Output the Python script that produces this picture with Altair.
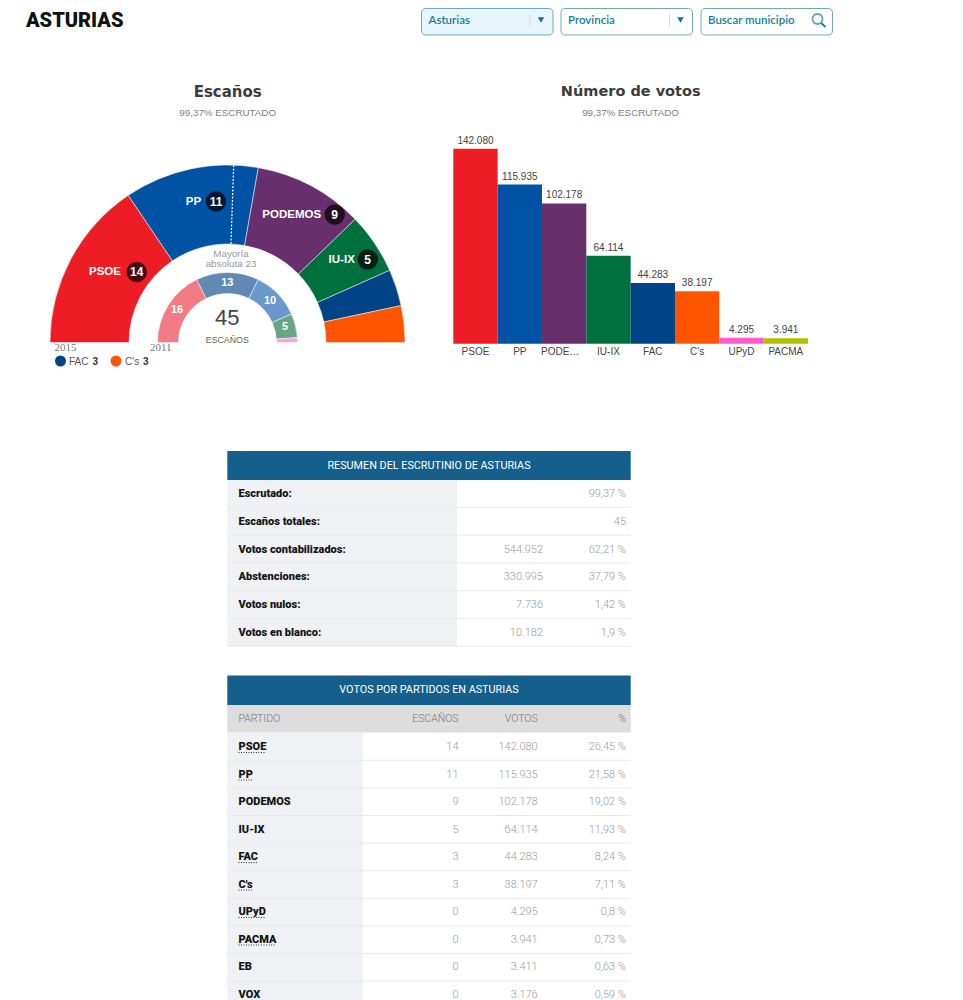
import math
import altair as alt
import pandas as pd

# ---------- data ----------
parties = ["PSOE", "PP", "PODEMOS", "IU-IX", "FAC", "C's", "UPyD", "PACMA", "EB", "VOX"]
party_colors = ["#EE1C25", "#0052A5", "#672F6C", "#00703F", "#004487", "#FF5500", "#FF5ACD", "#B0BF00", "#999999", "#999999"]
seats_2015 = [14, 11, 9, 5, 3, 3, 0, 0, 0, 0]
votes = [142080, 115935, 102178, 64114, 44283, 38197, 4295, 3941, 3411, 3176]
pct = ["26,45 %", "21,58 %", "19,02 %", "11,93 %", "8,24 %", "7,11 %", "0,8 %", "0,73 %", "0,63 %", "0,59 %"]
bar_parties = parties[:8]
bar_labels = ["PSOE", "PP", "PODE…", "IU-IX", "FAC", "C's", "UPyD", "PACMA"]
ring_labels = ["PSOE", "PP", "PODEMOS", "IU-IX"]
seats_2011_groups = ["PSOE", "PP", "FAC", "IU", "UPyD"]
seats_2011 = [16, 13, 10, 5, 1]
colors_2011 = ["#F27A85", "#6089B3", "#6A97CC", "#66A585", "#F9A0EA"]
summary_rows = ["Escrutado:", "Escaños totales:", "Votos contabilizados:", "Abstenciones:", "Votos nulos:", "Votos en blanco:"]
summary_counts = ["", "", "544.952", "330.995", "7.736", "10.182"]
summary_values = ["99,37 %", "45", "62,21 %", "37,79 %", "1,42 %", "1,9 %"]
underlined = {"PSOE": 27, "PP": 14, "FAC": 19, "C's": 15, "UPyD": 26, "PACMA": 36}
majority = 23
total_seats = 45

fmt = lambda v: f"{v:,}".replace(",", ".")
OFF = 8
ONE = alt.Data(values=[{"a": 1}])
SANS = "Liberation Sans"
NARROW = "Roboto"
TEAL = "#157D9A"
layers = []


def text(s, x, y, size=10, color="#444444", font=SANS, weight="normal", align="center", **kw):
    layers.append(
        alt.Chart(ONE).mark_text(text=s, fontSize=size, color=color, font=font, fontWeight=weight,
                                 align=align, baseline="middle", **kw)
        .encode(x=alt.value(x - OFF), y=alt.value(y - OFF))
    )


def box(x0, y0, x1, y1, fill, stroke=None, radius=0, width=1):
    kw = {"stroke": stroke, "strokeWidth": width} if stroke else {}
    layers.append(
        alt.Chart(ONE).mark_rect(fill=fill, cornerRadius=radius, **kw)
        .encode(x=alt.value(x0 - OFF), x2=alt.value(x1 - OFF), y=alt.value(y0 - OFF), y2=alt.value(y1 - OFF))
    )


def line(x0, y0, x1, y1, color, width=1, dash=None):
    kw = {"strokeDash": dash} if dash else {}
    layers.append(
        alt.Chart(ONE).mark_rule(color=color, strokeWidth=width, **kw)
        .encode(x=alt.value(x0 - OFF), x2=alt.value(x1 - OFF), y=alt.value(y0 - OFF), y2=alt.value(y1 - OFF))
    )


def dot(x, y, d, color, opacity=1.0, shape="circle"):
    layers.append(
        alt.Chart(ONE).mark_point(filled=True, shape=shape, size=d * d, color=color, opacity=opacity)
        .encode(x=alt.value(x - OFF), y=alt.value(y - OFF))
    )


def ring(names, vals, cols, outer, inner, cx, cy):
    df = pd.DataFrame({"name": names, "v": vals, "i": range(len(names))})
    layers.append(
        alt.Chart(df).mark_arc(outerRadius=outer, innerRadius=inner, stroke="white", strokeWidth=0.5)
        .encode(
            theta=alt.Theta("v:Q", stack=True,
                            scale=alt.Scale(domain=[0, total_seats], range=[-math.pi / 2, math.pi / 2])),
            color=alt.Color("name:N", scale=alt.Scale(domain=names, range=cols), legend=None),
            order=alt.Order("i:Q"),
            x=alt.value(cx - OFF), y=alt.value(cy - OFF),
        )
    )


# ---------- header ----------
text("ASTURIAS", 26, 20.5, size=20, color="#111111", font="Roboto", weight=900, align="left")
for x0, fill, label, div in [(421.5, "#E6F6FC", "Asturias", True), (561, "white", "Provincia", True),
                             (701, "white", "Buscar municipio", False)]:
    box(x0, 8.5, x0 + 131.5, 35, fill, stroke="#6FA9BC", radius=4)
    text(label, x0 + 7, 20.5, size=11.5, color=TEAL, font="Lato", weight=600, align="left")
    if div:
        line(x0 + 108.5, 14, x0 + 108.5, 27, "#C5DDE6")
        dot(x0 + 119.5, 20, 6.5, "#1A6E8E", shape="triangle-down")
layers.append(
    alt.Chart(ONE).mark_point(shape="circle", size=100, stroke=TEAL, strokeWidth=1.8, fill=None, filled=False)
    .encode(x=alt.value(817.5 - OFF), y=alt.value(19 - OFF))
)
line(821, 23, 825.5, 27, TEAL, width=2)

# ---------- hemicycle ----------
CX, CY = 227.5, 342.5
text("Escaños", 227.7, 92, size=15, color="#3C3C3C", font="DejaVu Sans", weight="bold")
text("99,37% ESCRUTADO", 227.7, 113, size=9.8, color="#808080")
ring(parties[:6], seats_2015[:6], party_colors[:6], 177.5, 98.5, CX, CY)
ring(seats_2011_groups, seats_2011, colors_2011, 70, 49, CX, CY)

ang = math.pi * majority / total_seats - math.pi / 2
maj = pd.DataFrame({"x": [CX - OFF + 98.5 * math.sin(ang)], "x2": [CX - OFF + 177.5 * math.sin(ang)],
                    "y": [CY - OFF - 98.5 * math.cos(ang)], "y2": [CY - OFF - 177.5 * math.cos(ang)]})
layers.append(
    alt.Chart(maj).mark_rule(color="white", strokeWidth=1.2, strokeDash=[2, 1.5])
    .encode(x=alt.X("x:Q", scale=None), x2="x2:Q", y=alt.Y("y:Q", scale=None), y2="y2:Q")
)

for name, n, tx, cxx, yy in [("PSOE", 14, 105, 136.7, 272), ("PP", 11, 193.5, 216, 201.5),
                             ("PODEMOS", 9, 291.7, 334.7, 214.5), ("IU-IX", 5, 341.7, 367.7, 259.5)]:
    text(name, tx, yy, size=11.5, color="white", weight="bold")
    dot(cxx, yy, 20.5, "black", opacity=0.7)
    text(str(n), cxx, yy, size=12, color="white", weight="bold")

text("Mayoría", 231, 253.5, size=9.8, color="#999999")
text("absoluta 23", 231, 263.5, size=9.8, color="#999999")
for v, tx, ty in zip(seats_2011[:4], [177, 227.3, 270, 285], [310, 282.5, 300.5, 327]):
    text(str(v), tx, ty, size=11, color="white", weight="bold")
text("45", 227.3, 318, size=22, color="#444444")
text("ESCAÑOS", 227.3, 339.5, size=8.8, color="#666666")
text("2015", 65.5, 347.8, size=11, color="#777777", font="Liberation Serif")
text("2011", 160.8, 347.8, size=11, color="#777777", font="Liberation Serif")
dot(60.5, 361, 11, party_colors[4])
text("FAC", 69, 361.5, size=10, color="#555555", align="left")
text("3", 92.5, 361.5, size=10, color="#333333", weight="bold", align="left")
dot(116, 361, 11, party_colors[5])
text("C's", 125, 361.5, size=10, color="#555555", align="left")
text("3", 143, 361.5, size=10, color="#333333", weight="bold", align="left")

# ---------- bars ----------
text("Número de votos", 630.7, 92, size=14.5, color="#3C3C3C", font="DejaVu Sans", weight="bold")
text("99,37% ESCRUTADO", 630.5, 113, size=9.8, color="#808080")
bars = pd.DataFrame({"party": bar_parties, "votes": votes[:8], "label": bar_labels,
                     "votes_txt": [fmt(v) for v in votes[:8]]})
x_bar = alt.X("party:N", scale=alt.Scale(domain=bar_parties, range=[453.3 - OFF, 808 - OFF], paddingInner=0, paddingOuter=0),
              axis=None)
y_bar = alt.Y("votes:Q", scale=alt.Scale(domain=[0, 142080], range=[343.7 - OFF, 148.7 - OFF]), axis=None)
layers.append(
    alt.Chart(bars).mark_bar()
    .encode(x=x_bar, y=y_bar,
            color=alt.Color("party:N", scale=alt.Scale(domain=bar_parties, range=party_colors[:8]), legend=None))
)
layers.append(
    alt.Chart(bars).mark_text(dy=-8, fontSize=10, color="#444444", font=SANS, baseline="middle")
    .encode(x=x_bar, y=y_bar, text="votes_txt:N")
)
layers.append(
    alt.Chart(bars[bars.party != "PODEMOS"]).mark_text(fontSize=10, color="#444444", font=SANS, baseline="middle")
    .encode(x=x_bar, y=alt.value(352.3 - OFF), text="label:N")
)
layers.append(
    alt.Chart(bars[bars.party == "PODEMOS"]).mark_text(dx=-4, fontSize=10, color="#444444", font=SANS, baseline="middle")
    .encode(x=x_bar, y=alt.value(352.3 - OFF), text="label:N")
)

# ---------- tables ----------
LEFT, RIGHT = 227.3, 630.7
BOLD = "Roboto"
LIGHT = "Roboto"
GREY = "#9A9A9A"
T1_FIRST, T1_LAST = 494.2, 632.8
T2_FIRST, T2_LAST = 747.2, 994.8


def row_y(domain, first, last):
    return alt.Y("row:N", scale=alt.Scale(type="point", domain=domain, range=[first - OFF, last - OFF], padding=0),
                 axis=None)


def column(df, field, domain, first, last, xpos, align="right", size=11, color=GREY, font=LIGHT, weight=300):
    layers.append(
        alt.Chart(df).mark_text(align=align, baseline="middle", fontSize=size, color=color, font=font, fontWeight=weight)
        .encode(x=alt.value(xpos - OFF), y=row_y(domain, first, last), text=f"{field}:N")
    )


# summary table
box(LEFT, 451, RIGHT, 480, "#155F8D")
text("RESUMEN DEL ESCRUTINIO DE ASTURIAS", (LEFT + RIGHT) / 2, 465.5, size=10.8, color="white", font=NARROW)
box(LEFT, 480, 457, 646.5, "#EFF1F5")
for i in range(6):
    line(LEFT, 507.3 + i * 27.8, RIGHT, 507.3 + i * 27.8, "#EAEAEA")
sdf = pd.DataFrame({"row": summary_rows, "count": summary_counts, "val": summary_values})
column(sdf, "row", summary_rows, T1_FIRST, T1_LAST, 238.5, align="left", size=11, color="#151515", font=BOLD, weight=900)
column(sdf, "count", summary_rows, T1_FIRST, T1_LAST, 543)
column(sdf, "val", summary_rows, T1_FIRST, T1_LAST, 626)

# party table
box(LEFT, 675.5, RIGHT, 705, "#155F8D")
text("VOTOS POR PARTIDOS EN ASTURIAS", (LEFT + RIGHT) / 2, 690, size=10.8, color="white", font=NARROW)
box(LEFT, 705, RIGHT, 732.5, "#DDDDDD")
for lab, xp, al in [("PARTIDO", 238.5, "left"), ("ESCAÑOS", 458.5, "right"), ("VOTOS", 537.7, "right"), ("%", 626, "right")]:
    text(lab, xp, 718.5, size=10.5, color="#777777", font=NARROW, weight=300, align=al)
box(LEFT, 732.5, 362.7, 1000, "#EFF1F5")
for i in range(10):
    line(LEFT, 760.3 + i * 27.6, RIGHT, 760.3 + i * 27.6, "#EAEAEA")
pdf = pd.DataFrame({"row": parties, "seats": [str(s) for s in seats_2015], "votes": [fmt(v) for v in votes], "pct": pct})
column(pdf, "row", parties, T2_FIRST, T2_LAST, 238.5, align="left", size=11, color="#151515", font=BOLD, weight=900)
column(pdf, "seats", parties, T2_FIRST, T2_LAST, 458.5)
column(pdf, "votes", parties, T2_FIRST, T2_LAST, 537.7)
column(pdf, "pct", parties, T2_FIRST, T2_LAST, 626)
for i, name in enumerate(parties):
    if name in underlined:
        yy = 752.5 + i * 27.5
        line(238.5, yy, 238.5 + underlined[name], yy, "#333333", width=1, dash=[1, 1.5])

chart = (
    alt.layer(*layers)
    .resolve_scale(x="independent", y="independent", theta="independent", color="independent")
    .properties(width=947, height=992, padding=0, autosize="none")
    .configure_view(stroke=None)
)
chart.save("out.html", embed_options={"renderer": "svg", "actions": False})
